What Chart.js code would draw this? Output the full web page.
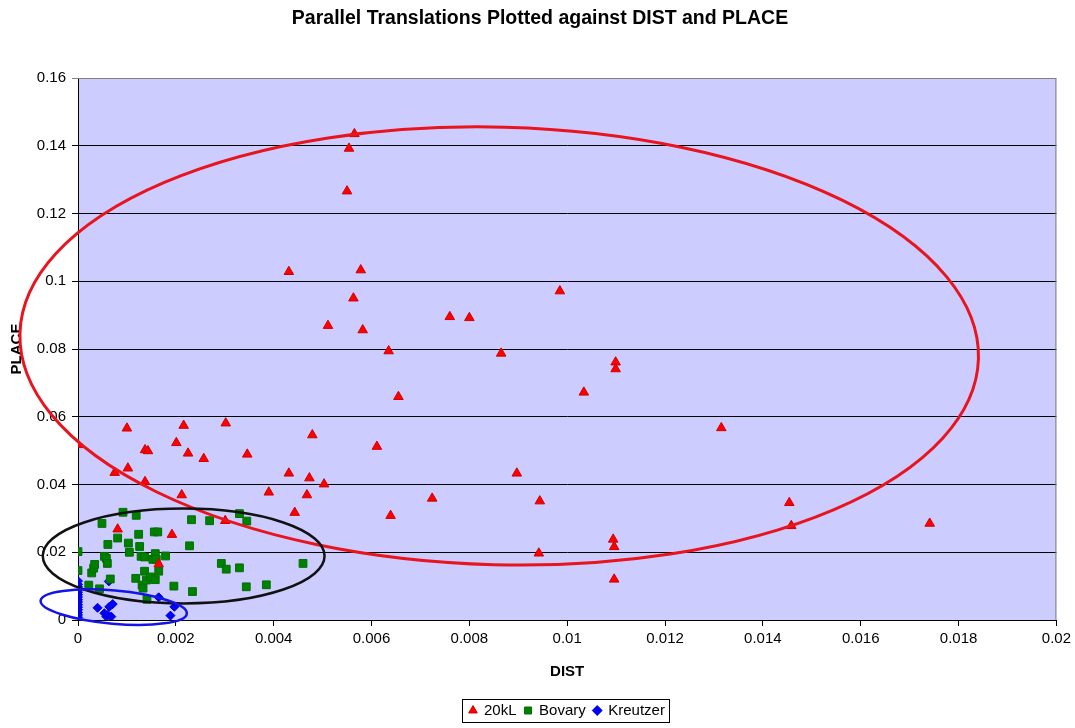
<!DOCTYPE html>
<html><head><meta charset="utf-8">
<script src="https://cdn.jsdelivr.net/npm/chart.js@4.4.1/dist/chart.umd.min.js"></script>
<style>html,body{margin:0;padding:0;background:#fff}</style>
</head><body>
<canvas id="c" width="1075" height="728"></canvas>
<script>
// ---- data ----
const kl20X = [0, 0.00075, 0.00081, 0.00100, 0.00102, 0.00137, 0.00143, 0.00137, 0.00165, 0.00192,
  0.00201, 0.00212, 0.00216, 0.00225, 0.00257, 0.00301, 0.00302, 0.00346, 0.00390, 0.00431,
  0.00431, 0.00443, 0.00468, 0.00473, 0.00479, 0.00503, 0.00511, 0.00550, 0.00554, 0.00565,
  0.00563, 0.00578, 0.00582, 0.00611, 0.00635, 0.00639, 0.00655, 0.00724, 0.00760, 0.00800,
  0.00865, 0.00897, 0.00942, 0.00944, 0.00985, 0.01034, 0.01094, 0.01096, 0.01096, 0.01099,
  0.01099, 0.01315, 0.01454, 0.01458, 0.01741];
const kl20Y = [0.0517, 0.0435, 0.0268, 0.0566, 0.0448, 0.0502, 0.0499, 0.0408, 0.0165, 0.0252,
  0.0523, 0.0369, 0.0574, 0.0492, 0.0476, 0.0293, 0.0581, 0.0489, 0.0377, 0.1028,
  0.0433, 0.0317, 0.0369, 0.0419, 0.0546, 0.0401, 0.0869, 0.1266, 0.1392, 0.1435,
  0.0950, 0.1033, 0.0856, 0.0512, 0.0794, 0.0308, 0.0659, 0.0359, 0.0895, 0.0892,
  0.0787, 0.0433, 0.0197, 0.0351, 0.0971, 0.0672, 0.0238, 0.0216, 0.0120, 0.0761,
  0.0741, 0.0567, 0.0346, 0.0278, 0.0285];

const bovaryX = [0, 0, 0.00022, 0.00028, 0.00032, 0.00034, 0.00044, 0.00049, 0.00054, 0.00058,
  0.00060, 0.00061, 0.00066, 0.00081, 0.00092, 0.00103, 0.00105, 0.00118, 0.00119, 0.00124,
  0.00126, 0.00129, 0.00131, 0.00133, 0.00136, 0.00136, 0.00140, 0.00141, 0.00148, 0.00153,
  0.00156, 0.00158, 0.00158, 0.00160, 0.00163, 0.00165, 0.00179, 0.00196, 0.00228, 0.00232,
  0.00234, 0.00269, 0.00293, 0.00303, 0.00330, 0.00330, 0.00344, 0.00345, 0.00385, 0.00460];
const bovaryY = [0.0202, 0.0146, 0.0103, 0.0139, 0.0153, 0.0164, 0.0092, 0.0285, 0.0188, 0.0182,
  0.0167, 0.0223, 0.0121, 0.0242, 0.0318, 0.0227, 0.0200, 0.0123, 0.0309, 0.0253,
  0.0217, 0.0188, 0.0103, 0.0094, 0.0186, 0.0144, 0.0118, 0.0061, 0.0127, 0.0179,
  0.0260, 0.0196, 0.0119, 0.0179, 0.0260, 0.0144, 0.0189, 0.0100, 0.0219, 0.0296,
  0.0084, 0.0293, 0.0167, 0.0150, 0.0314, 0.0154, 0.0098, 0.0292, 0.0104, 0.0167];

const kreutzerX = [0, 0, 0, 0, 0, 0, 0, 0, 0, 0, 0, 0, 0, 0, 0, 0,
  0.00040, 0.00054, 0.00058, 0.00061, 0.00063, 0.00064, 0.00068, 0.00071, 0.00165, 0.00189, 0.00197];
const kreutzerY = [0.0115, 0.0105, 0.0098, 0.0090, 0.0082, 0.0075, 0.0068, 0.0060, 0.0053, 0.0045,
  0.0038, 0.0030, 0.0022, 0.0015, 0.0008, 0,
  0.0036, 0.0020, 0.0010, 0.0015, 0.0114, 0.0039, 0.0010, 0.0047, 0.0067, 0.0013, 0.0039];

const xTickValues = [0, 0.002, 0.004, 0.006, 0.008, 0.01, 0.012, 0.014, 0.016, 0.018, 0.02];
const yTickValues = [0, 0.02, 0.04, 0.06, 0.08, 0.1, 0.12, 0.14, 0.16];
const seriesNames = ['20kL', 'Bovary', 'Kreutzer'];

// hand-drawn ellipses (in data units)
const ellipses = [
  {cx: 0.00861, cy: 0.0809, rx: 0.00980, ry: 0.0646, rot: 1.5, color: '#E8141E', width: 3},
  {cx: 0.00216, cy: 0.0189, rx: 0.00288, ry: 0.0140, rot: 0, color: '#111111', width: 2.5},
  {cx: 0.00073, cy: 0.0038, rx: 0.00150, ry: 0.0049, rot: 5, color: '#1414E6', width: 2.5}
];

const pts = (xs, ys) => xs.map((x, i) => ({x: x, y: ys[i]}));
const FONT = '"Liberation Sans", Arial, sans-serif';

const deco = {
  id: 'deco',
  beforeDraw(chart) {
    const {ctx, chartArea: a} = chart;
    ctx.save();
    ctx.fillStyle = '#CCCCFF';
    ctx.fillRect(a.left, a.top, a.right - a.left, a.bottom - a.top);
    ctx.restore();
  },
  beforeDatasetsDraw(chart) {
    const {ctx, chartArea: a} = chart;
    ctx.save();
    ctx.strokeStyle = '#808080';
    ctx.lineWidth = 1;
    ctx.beginPath();
    ctx.moveTo(a.left, a.top + 0.5);
    ctx.lineTo(a.right - 0.5, a.top + 0.5);
    ctx.lineTo(a.right - 0.5, a.bottom);
    ctx.stroke();
    ctx.restore();
  },
  afterDatasetsDraw(chart) {
    const {ctx} = chart;
    const xs = chart.scales.x, ys = chart.scales.y;
    ctx.save();
    ellipses.forEach(e => {
      const cx = xs.getPixelForValue(e.cx), cy = ys.getPixelForValue(e.cy);
      const rx = Math.abs(xs.getPixelForValue(e.cx + e.rx) - cx);
      const ry = Math.abs(ys.getPixelForValue(e.cy + e.ry) - cy);
      ctx.beginPath();
      ctx.ellipse(cx, cy, rx, ry, e.rot * Math.PI / 180, 0, 2 * Math.PI);
      ctx.strokeStyle = e.color;
      ctx.lineWidth = e.width;
      ctx.stroke();
    });
    ctx.restore();
  },
  afterDraw(chart) {
    const lg = chart.legend;
    if (!lg || !lg.legendHitBoxes || !lg.legendHitBoxes.length) return;
    const hb = lg.legendHitBoxes;
    let l = Infinity, r = -Infinity, t = Infinity, b = -Infinity;
    hb.forEach(h => { l = Math.min(l, h.left); r = Math.max(r, h.left + h.width); t = Math.min(t, h.top); b = Math.max(b, h.top + h.height); });
    const ctx = chart.ctx;
    ctx.save();
    ctx.strokeStyle = '#000';
    ctx.lineWidth = 1;
    ctx.strokeRect(Math.round(l - 8) + 0.5, Math.round(t - 4) + 0.5, Math.round(r - l + 12), Math.round(b - t + 8));
    ctx.restore();
  }
};

new Chart(document.getElementById('c'), {
  type: 'scatter',
  data: {
    datasets: [
      {label: seriesNames[0], data: pts(kl20X, kl20Y), pointStyle: 'triangle', pointRadius: 5.5,
       backgroundColor: '#FF0000', borderColor: '#D00000', borderWidth: 1},
      {label: seriesNames[1], data: pts(bovaryX, bovaryY), pointStyle: 'rect', pointRadius: 5.5,
       backgroundColor: '#008000', borderColor: '#007000', borderWidth: 1},
      {label: seriesNames[2], data: pts(kreutzerX, kreutzerY), pointStyle: 'rectRot', pointRadius: 4.5,
       backgroundColor: '#0000FF', borderColor: '#0000D0', borderWidth: 1}
    ]
  },
  options: {
    responsive: false,
    animation: false,
    devicePixelRatio: 1,
    layout: {padding: {left: 23, right: 18, top: 0, bottom: 0}},
    plugins: {
      title: {display: true, text: 'Parallel Translations Plotted against DIST and PLACE',
        color: '#000', font: {family: FONT, size: 19.5, weight: 'bold'}, padding: {top: 7, bottom: 47.6}},
      legend: {position: 'bottom', fullSize: false,
        labels: {usePointStyle: true, boxWidth: 7, boxHeight: 7, padding: 8, color: '#000',
          font: {family: FONT, size: 15}}},
      tooltip: {enabled: false}
    },
    scales: {
      x: {
        type: 'linear', min: 0, max: 0.02,
        afterBuildTicks: s => { s.ticks = xTickValues.map(v => ({value: v})); },
        afterFit: s => { s.height = 75; },
        ticks: {color: '#000', font: {family: FONT, size: 15}, padding: 4,
          maxRotation: 0, autoSkip: false, callback: v => String(+v.toFixed(3))},
        grid: {drawOnChartArea: false, drawTicks: true, tickLength: 6, color: '#000'},
        border: {display: true, color: '#000', width: 1},
        title: {display: true, text: 'DIST', color: '#000',
          font: {family: FONT, size: 15, weight: 'bold'}, padding: {top: 0, bottom: 14}}
      },
      y: {
        type: 'linear', min: 0, max: 0.16,
        afterBuildTicks: s => { s.ticks = yTickValues.map(v => ({value: v})); },
        afterFit: s => { s.width = 55; },
        ticks: {color: '#000', font: {family: FONT, size: 15}, padding: 6,
          autoSkip: false, callback: v => String(+v.toFixed(2))},
        grid: {drawTicks: true, tickLength: 6, lineWidth: 1,
          color: c => (c.tick && c.tick.value >= 0.16 - 1e-9) ? '#808080' : '#000'},
        border: {display: true, color: '#000', width: 1},
        title: {display: true, text: 'PLACE', color: '#000',
          font: {family: FONT, size: 15, weight: 'bold'}, padding: {top: -15, bottom: 0}}
      }
    }
  },
  plugins: [deco]
});
</script>
</body></html>
